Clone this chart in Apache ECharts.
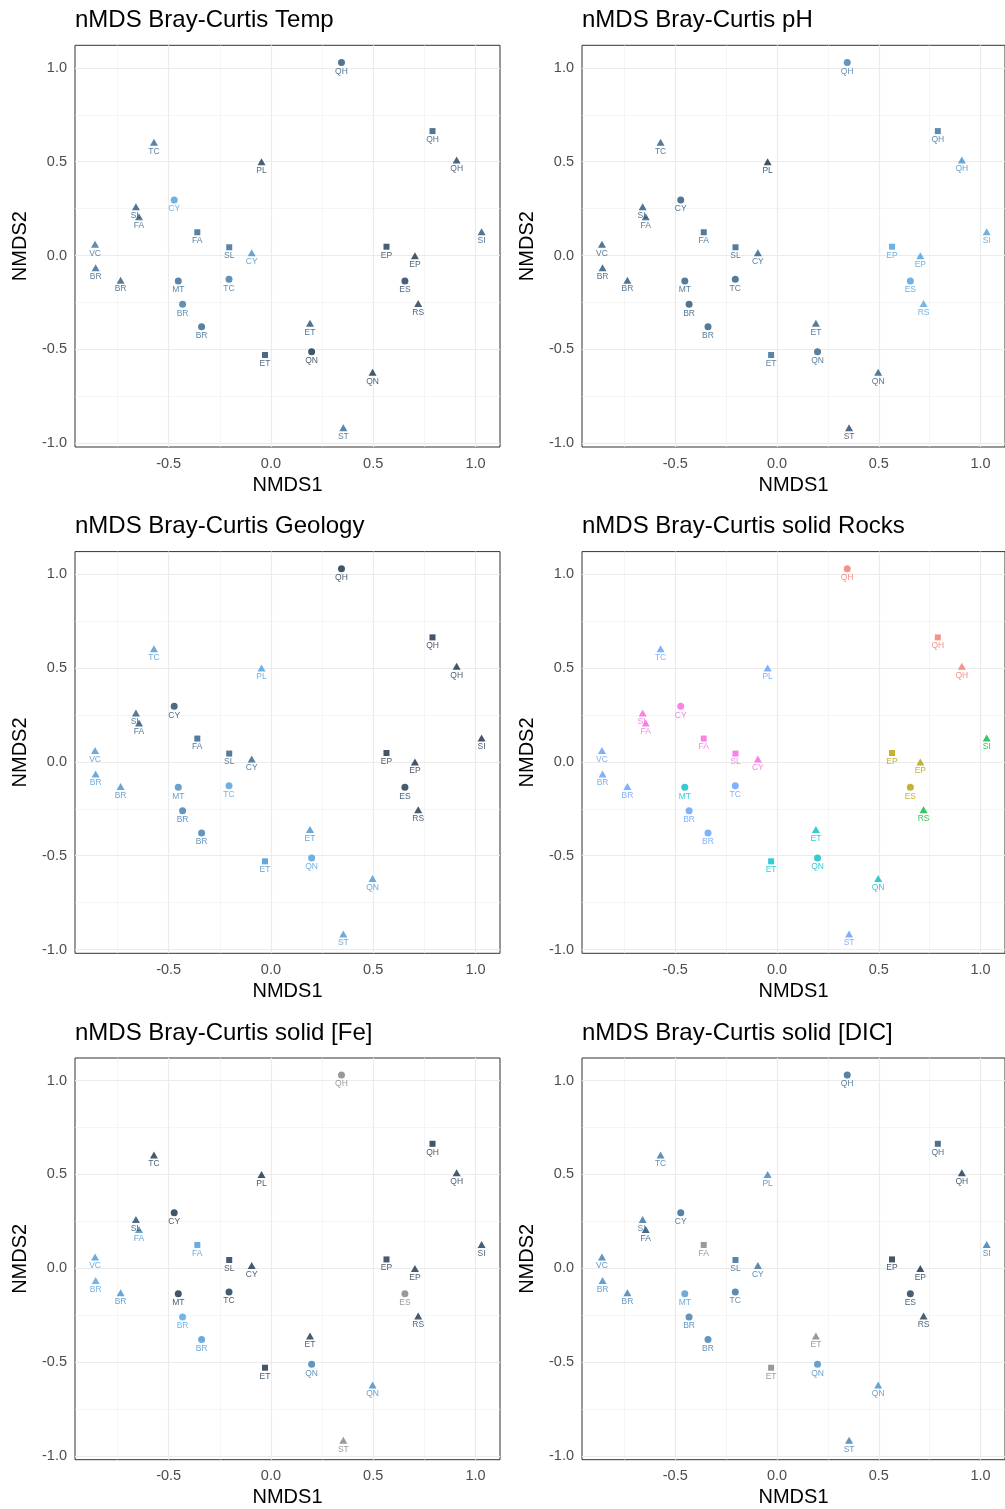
<!DOCTYPE html>
<html>
<head>
<meta charset="utf-8">
<title>nMDS Bray-Curtis</title>
<script src="https://cdn.jsdelivr.net/npm/echarts@6/dist/echarts.min.js"></script>
<style>
  html, body { margin: 0; padding: 0; background: #fff; }
  #chart { width: 1005px; height: 1509px; }
</style>
</head>
<body>
<div id="chart"></div>
<script>
// site codes + ordination scores (same ordination in every panel)
const sites = ['QH', 'QH', 'QH', 'SI', 'TC', 'PL', 'CY', 'SL', 'FA', 'FA', 'SL', 'CY', 'VC', 'BR',
  'BR', 'MT', 'TC', 'BR', 'BR', 'ET', 'EP', 'EP', 'ES', 'RS', 'ET', 'QN', 'QN', 'ST']
const nmds1 = [0.345, 0.790, 0.908, 1.030, -0.572, -0.046, -0.473, -0.660, -0.645, -0.360, -0.204, -0.094, -0.860, -0.857,
  -0.735, -0.453, -0.205, -0.432, -0.339, -0.029, 0.565, 0.704, 0.655, 0.720, 0.191, 0.199, 0.497, 0.354]
const nmds2 = [1.029, 0.663, 0.509, 0.127, 0.603, 0.500, 0.296, 0.260, 0.207, 0.124, 0.044, 0.015, 0.060, -0.065,
  -0.131, -0.136, -0.127, -0.260, -0.379, -0.530, 0.047, -0.001, -0.136, -0.255, -0.361, -0.512, -0.622, -0.917]
const sampleShape = ['circle', 'square', 'triangle', 'triangle', 'triangle', 'triangle', 'circle', 'triangle', 'triangle',
  'square', 'square', 'triangle', 'triangle', 'triangle', 'triangle', 'circle', 'circle', 'circle', 'circle', 'square',
  'square', 'triangle', 'circle', 'triangle', 'triangle', 'circle', 'triangle', 'triangle']

// colour variables, rescaled 0 (low) .. 1 (high); null = NA
const temp = [0.3, 0.3, 0.15, 0.3, 0.45, 0.1, 0.85, 0.3, 0.35, 0.4, 0.45, 0.75, 0.5, 0.45,
  0.35, 0.45, 0.55, 0.55, 0.4, 0.2, 0.1, 0.05, 0.1, 0.1, 0.25, 0.0, 0.05, 0.45]
const ph = [0.6, 0.5, 0.75, 0.85, 0.35, 0.0, 0.3, 0.3, 0.3, 0.35, 0.35, 0.35, 0.3, 0.3,
  0.3, 0.35, 0.35, 0.3, 0.35, 0.45, 0.85, 0.85, 0.85, 0.9, 0.35, 0.4, 0.35, 0.2]
const geology = [0, 0, 0, 0, 0.8, 0.85, 0.2, 0.35, 0.3, 0.35, 0.35, 0.4, 0.8, 0.8,
  0.75, 0.7, 0.85, 0.6, 0.6, 0.75, 0, 0, 0.05, 0.05, 0.75, 0.85, 0.8, 0.8]
const rockType = ['A', 'A', 'A', 'C', 'E', 'E', 'F', 'F', 'F', 'F', 'F', 'F', 'E', 'E',
  'E', 'D', 'E', 'E', 'E', 'D', 'B', 'B', 'B', 'C', 'D', 'D', 'D', 'E']
const solidFe = [null, 0, 0.05, 0.1, 0.05, 0, 0, 0.2, 0.7, 0.8, 0.05, 0.05, 0.8, 0.9,
  0.75, 0, 0.05, 0.9, 0.8, 0, 0.05, 0.05, null, 0.05, 0.05, 0.6, 0.7, null]
const solidDIC = [0.4, 0.25, 0.05, 0.55, 0.55, 0.65, 0.4, 0.5, 0.2, null, 0.45, 0.5, 0.6, 0.7,
  0.6, 0.8, 0.5, 0.6, 0.6, null, 0, 0, 0.1, 0.1, null, 0.7, 0.75, 0.6]

const rockLevels = ['A', 'B', 'C', 'D', 'E', 'F']
const xTicks = [-0.5, 0, 0.5, 1]
const yTicks = [-1, -0.5, 0, 0.5, 1]
const xMinor = [-0.75, -0.25, 0.25, 0.75]
const yMinor = [-0.75, -0.25, 0.25, 0.75]

const titles = ['nMDS Bray-Curtis Temp', 'nMDS Bray-Curtis pH', 'nMDS Bray-Curtis Geology',
  'nMDS Bray-Curtis solid Rocks', 'nMDS Bray-Curtis solid [Fe]', 'nMDS Bray-Curtis solid [DIC]']
const colourVars = [temp, ph, geology, rockType, solidFe, solidDIC]

const hue6 = ['#F8766D', '#B79F00', '#00BA38', '#00BFC4', '#619CFF', '#F564E3']
const symbolOf = { circle: 'circle', square: 'rect', triangle: 'triangle' }
const sizeOf = { circle: 7, square: [6, 6], triangle: [8, 7] }
const font = 'Liberation Sans, Arial, sans-serif'

function colourFor(v) {
  if (v === null) return '#7F7F7F' // ggplot na.value
  if (typeof v === 'string') return hue6[rockLevels.indexOf(v)]
  return echarts.color.lerp(v, ['#132B43', '#56B1F7'])
}

const chart = echarts.init(document.getElementById('chart'))

const grid = []
const xAxis = []
const yAxis = []
const series = []
const title = []
const rowTops = [45.3, 551.6, 1058]

titles.forEach((t, i) => {
  const left = i % 2 ? 582 : 75
  const top = rowTops[Math.floor(i / 2)]
  grid.push({ left: left, top: top, width: 425, height: 401.7, show: true, borderColor: '#333', borderWidth: 1, backgroundColor: '#fff' })
  title.push({
    text: t, left: left, top: top - 37, padding: 0,
    textStyle: { fontFamily: font, fontSize: 24, fontWeight: 'normal', color: '#000' }
  })
  xAxis.push({
    type: 'value', gridIndex: i, min: -0.958, max: 1.12,
    name: 'NMDS1', nameLocation: 'middle', nameGap: 28,
    nameTextStyle: { fontFamily: font, fontSize: 20, color: '#000' },
    axisLine: { show: false },
    axisTick: { show: true, customValues: xTicks, length: 4, lineStyle: { color: '#333' } },
    axisLabel: { customValues: xTicks, margin: 9, fontFamily: font, fontSize: 14.5, color: '#4D4D4D', formatter: v => v.toFixed(1) },
    splitLine: { show: false }
  })
  yAxis.push({
    type: 'value', gridIndex: i, min: -1.02, max: 1.12,
    name: 'NMDS2', nameLocation: 'middle', nameGap: 45, nameRotate: 90,
    nameTextStyle: { fontFamily: font, fontSize: 20, color: '#000' },
    axisLine: { show: false },
    axisTick: { show: true, customValues: yTicks, length: 4, lineStyle: { color: '#333' } },
    axisLabel: { customValues: yTicks, margin: 8, fontFamily: font, fontSize: 14.5, color: '#4D4D4D', formatter: v => v.toFixed(1) },
    splitLine: { show: false }
  })

  const major = { color: '#EBEBEB', width: 1.2, type: 'solid' }
  const minor = { color: '#F1F1F1', width: 0.7, type: 'solid' }
  const lines = [].concat(
    xMinor.map(v => ({ xAxis: v, lineStyle: minor })),
    yMinor.map(v => ({ yAxis: v, lineStyle: minor })),
    xTicks.map(v => ({ xAxis: v, lineStyle: major })),
    yTicks.map(v => ({ yAxis: v, lineStyle: major }))
  )

  const vals = colourVars[i]
  const data = sites.map((s, k) => {
    const c = colourFor(vals[k])
    return {
      name: s,
      value: [nmds1[k], nmds2[k]],
      symbol: symbolOf[sampleShape[k]],
      symbolSize: sizeOf[sampleShape[k]],
      itemStyle: { color: c },
      label: { color: c }
    }
  })

  series.push({
    type: 'scatter', xAxisIndex: i, yAxisIndex: i, data: data, z: 3,
    label: { show: true, position: 'bottom', distance: 1, fontFamily: font, fontSize: 8.5, formatter: '{b}' },
    markLine: {
      silent: true, z: 1, symbol: ['none', 'none'], label: { show: false },
      emphasis: { disabled: true }, animation: false, data: lines
    }
  })
})

chart.setOption({
  animation: false,
  backgroundColor: '#fff',
  title: title,
  grid: grid,
  xAxis: xAxis,
  yAxis: yAxis,
  series: series
})
</script>
</body>
</html>
